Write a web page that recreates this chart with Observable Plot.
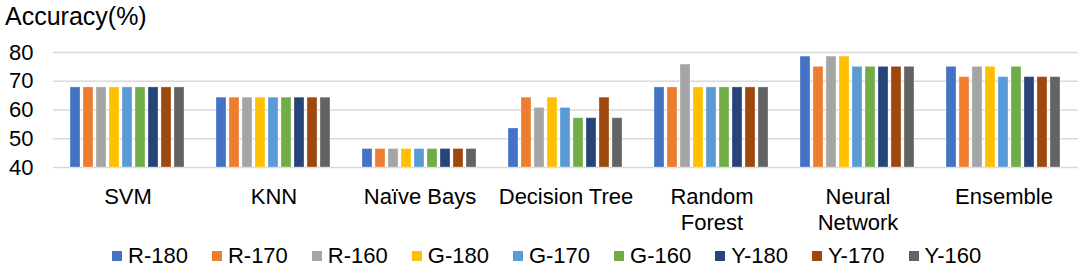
<!DOCTYPE html>
<html><head><meta charset="utf-8">
<script src="https://cdn.jsdelivr.net/npm/d3@7"></script>
<script src="https://cdn.jsdelivr.net/npm/@observablehq/plot@0.6"></script>
<style>
body{margin:0;background:#fff;}
#chart{position:relative;width:1084px;height:268px;overflow:hidden;font-family:"Liberation Sans",Arial,sans-serif;color:#000;background:#fff;}
#title{position:absolute;left:5px;top:4px;font-size:25px;line-height:25px;white-space:nowrap;}
.layer{position:absolute;left:0;top:0;}
#legend{position:absolute;left:112px;top:245px;display:flex;gap:24px;font-size:22px;line-height:22px;white-space:nowrap;}
.item{display:flex;align-items:center;gap:6px;}
.sw{width:10px;height:10px;display:inline-block;}
</style></head><body>
<div id="chart"><div id="title">Accuracy(%)</div><div id="legend"></div></div>
<script>
const categories = ["SVM", "KNN", "Naïve Bays", "Decision Tree", "Random\nForest", "Neural\nNetwork", "Ensemble"];
const series = ["R-180", "R-170", "R-160", "G-180", "G-170", "G-160", "Y-180", "Y-170", "Y-160"];
const colors = ["#4472C4", "#ED7D31", "#A5A5A5", "#FFC000", "#5B9BD5", "#70AD47", "#264478", "#9E480E", "#636363"];
const yTicks = [40, 50, 60, 70, 80];
const yMin = 40;

const svmValues = [67.86, 67.86, 67.86, 67.86, 67.86, 67.86, 67.86, 67.86, 67.86];
const knnValues = [64.29, 64.29, 64.29, 64.29, 64.29, 64.29, 64.29, 64.29, 64.29];
const nbValues = [46.43, 46.43, 46.43, 46.43, 46.43, 46.43, 46.43, 46.43, 46.43];
const dtValues = [53.57, 64.29, 60.71, 64.29, 60.71, 57.14, 57.14, 64.29, 57.14];
const rfValues = [67.86, 67.86, 75.8, 67.86, 67.86, 67.86, 67.86, 67.86, 67.86];
const nnValues = [78.57, 75.0, 78.57, 78.57, 75.0, 75.0, 75.0, 75.0, 75.0];
const ensValues = [75.0, 71.43, 75.0, 75.0, 71.43, 75.0, 71.43, 71.43, 71.43];
const valuesByCategory = [svmValues, knnValues, nbValues, dtValues, rfValues, nnValues, ensValues];

const rows = [];
categories.forEach((c, i) => series.forEach((s, j) => rows.push({category: c, series: s, value: valuesByCategory[i][j]})));

const common = {
  width: 1084, height: 240,
  marginLeft: 53, marginRight: 6, marginTop: 52, marginBottom: 73,
  style: {fontFamily: "'Liberation Sans', Arial, sans-serif", fontSize: "22px", color: "#000", background: "transparent", overflow: "visible"}
};

const gridPlot = Plot.plot({
  ...common,
  y: {domain: [40, 80], ticks: yTicks},
  marks: [
    Plot.gridY(yTicks, {stroke: "#d9d9d9", strokeOpacity: 1, strokeWidth: 1.5}),
    Plot.axisY(yTicks, {tickSize: 0, tickPadding: 20, label: null, fontSize: 22, fill: "#000"})
  ]
});

const barPlot = Plot.plot({
  ...common,
  y: {domain: [40, 80], axis: null},
  fx: {domain: categories, paddingInner: 0.16, paddingOuter: 0.08, label: null, axis: null},
  x: {domain: series, paddingInner: 0.2, paddingOuter: 0.1, axis: null},
  color: {domain: series, range: colors},
  marks: [
    Plot.barY(rows, {fx: "category", x: "series", y1: yMin, y2: "value", fill: "series", stroke: "white", strokeOpacity: 0.3, strokeWidth: 1}),
    Plot.axisFx({anchor: "bottom", tickSize: 0, tickPadding: 18, lineHeight: 1.18, label: null, fontSize: 22, fill: "#000"})
  ]
});

gridPlot.classList.add("layer");
barPlot.classList.add("layer");
const chart = document.getElementById("chart");
chart.insertBefore(gridPlot, chart.firstChild);
chart.insertBefore(barPlot, document.getElementById("title"));

const legend = document.getElementById("legend");
series.forEach((s, i) => {
  const item = document.createElement("div");
  item.className = "item";
  const sw = document.createElement("span");
  sw.className = "sw";
  sw.style.background = colors[i];
  const t = document.createElement("span");
  t.textContent = s;
  item.appendChild(sw);
  item.appendChild(t);
  legend.appendChild(item);
});
</script>
</body></html>
